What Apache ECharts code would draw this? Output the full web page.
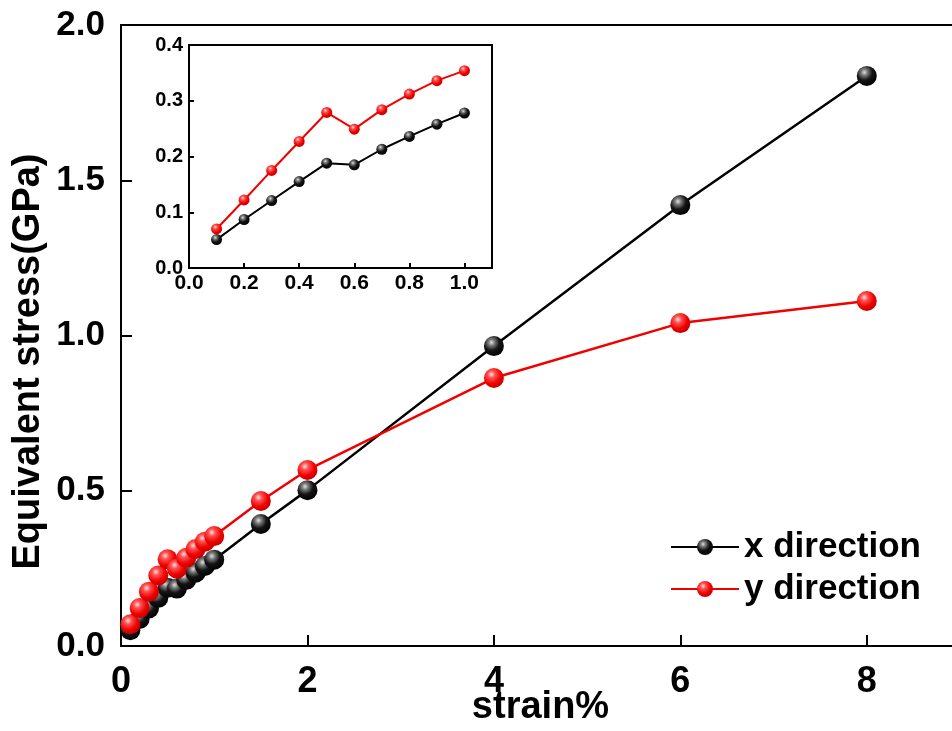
<!DOCTYPE html>
<html>
<head>
<meta charset="utf-8">
<script src="https://cdn.jsdelivr.net/npm/echarts@6/dist/echarts.min.js"></script>
<style>
html,body{margin:0;padding:0;background:#fff;}
#chart{width:952px;height:731px;}
</style>
</head>
<body>
<div id="chart"></div>
<script>
// Strain (%) values for the main plot
const strainMain = [0.1, 0.2, 0.3, 0.4, 0.5, 0.6, 0.7, 0.8, 0.9, 1.0, 1.5, 2, 4, 6, 8];
// Equivalent stress (GPa), x direction
const stressX = [0.051, 0.087, 0.121, 0.155, 0.188, 0.185, 0.213, 0.236, 0.258, 0.278, 0.393, 0.502, 0.966, 1.420, 1.836];
// Equivalent stress (GPa), y direction
const stressY = [0.070, 0.122, 0.175, 0.227, 0.279, 0.249, 0.284, 0.312, 0.336, 0.354, 0.467, 0.567, 0.863, 1.040, 1.111];
// Inset range: first 10 points (strain 0.1 - 1.0)
const insetCount = 10;
const seriesNames = ['x direction', 'y direction'];
const xAxisTitle = 'strain%';
const yAxisTitle = 'Equivalent stress(GPa)';

const pairs = (xs, ys, n) => xs.slice(0, n).map((x, i) => [x, ys[i]]);

const blackBall = {
  type: 'radial', x: 0.38, y: 0.32, r: 0.72,
  colorStops: [
    {offset: 0, color: '#e0e0e0'},
    {offset: 0.22, color: '#7a7a7a'},
    {offset: 0.55, color: '#141414'},
    {offset: 1, color: '#000000'}
  ]
};
const redBall = {
  type: 'radial', x: 0.38, y: 0.32, r: 0.72,
  colorStops: [
    {offset: 0, color: '#ffe0e0'},
    {offset: 0.25, color: '#ff5050'},
    {offset: 0.65, color: '#f00000'},
    {offset: 1, color: '#c00000'}
  ]
};

const font = 'Liberation Sans, Arial, sans-serif';

const chart = echarts.init(document.getElementById('chart'), null, {renderer: 'canvas'});
const option = {
  backgroundColor: '#ffffff',
  animation: false,
  legend: {
    left: 665, top: 524, orient: 'vertical',
    itemWidth: 68, itemHeight: 20, itemGap: 6,
    data: seriesNames,
    textStyle: {fontFamily: font, fontWeight: 'bold', fontSize: 35, color: '#000', lineHeight: 36}
  },
  grid: [
    {left: 121, top: 25, width: 839, height: 621, outerBoundsMode: 'none', containLabel: false,
      show: true, borderColor: '#000', borderWidth: 2, backgroundColor: 'transparent'},
    {left: 189, top: 45, width: 303, height: 223, outerBoundsMode: 'none', containLabel: false,
      show: true, borderColor: '#000', borderWidth: 2, backgroundColor: '#fff', z: 5}
  ],
  xAxis: [
    {
      gridIndex: 0, type: 'value', min: 0, max: 9, interval: 2,
      name: xAxisTitle, nameLocation: 'middle', nameGap: 43, nameMoveOverlap: false,
      nameTextStyle: {fontFamily: 'Liberation Sans Narrow, ' + font, fontWeight: 'bold', fontSize: 38, color: '#000'},
      axisLine: {lineStyle: {color: '#000', width: 2}},
      axisTick: {inside: true, length: 11, lineStyle: {color: '#000', width: 2}},
      axisLabel: {margin: 18, showMaxLabel: false, fontFamily: 'Liberation Sans Narrow, ' + font, fontWeight: 'bold', fontSize: 36, color: '#000'},
      splitLine: {show: false}
    },
    {
      gridIndex: 1, type: 'value', min: 0, max: 1.1, interval: 0.2,
      axisLine: {lineStyle: {color: '#000', width: 2}},
      axisTick: {inside: true, length: 5, lineStyle: {color: '#000', width: 2}},
      axisLabel: {margin: 5, showMaxLabel: false, fontFamily: font, fontWeight: 'bold', fontSize: 21, color: '#000',
        formatter: v => v.toFixed(1)},
      splitLine: {show: false}, z: 6
    }
  ],
  yAxis: [
    {
      gridIndex: 0, type: 'value', min: 0, max: 2, interval: 0.5,
      name: yAxisTitle, nameLocation: 'middle', nameGap: 73, nameMoveOverlap: false,
      nameTextStyle: {fontFamily: font, fontWeight: 'bold', fontSize: 38, color: '#000', padding: [0, 52, 0, 0]},
      axisLine: {lineStyle: {color: '#000', width: 2}},
      axisTick: {inside: true, length: 11, lineStyle: {color: '#000', width: 2}},
      axisLabel: {margin: 16, fontFamily: font, fontWeight: 'bold', fontSize: 35, color: '#000',
        formatter: v => v.toFixed(1)},
      splitLine: {show: false}
    },
    {
      gridIndex: 1, type: 'value', min: 0, max: 0.4, interval: 0.1,
      axisLine: {lineStyle: {color: '#000', width: 2}},
      axisTick: {inside: true, length: 5, lineStyle: {color: '#000', width: 2}},
      axisLabel: {margin: 6, fontFamily: font, fontWeight: 'bold', fontSize: 20, color: '#000',
        formatter: v => v.toFixed(1)},
      splitLine: {show: false}, z: 6
    }
  ],
  series: [
    {
      name: seriesNames[0], type: 'line', xAxisIndex: 0, yAxisIndex: 0,
      data: pairs(strainMain, stressX, strainMain.length),
      symbol: 'circle', symbolSize: 20,
      lineStyle: {color: '#000', width: 2.5},
      itemStyle: {color: blackBall, borderWidth: 0},
      z: 2
    },
    {
      name: seriesNames[1], type: 'line', xAxisIndex: 0, yAxisIndex: 0,
      data: pairs(strainMain, stressY, strainMain.length),
      symbol: 'circle', symbolSize: 20,
      lineStyle: {color: '#f00000', width: 2.5},
      itemStyle: {color: redBall, borderWidth: 0},
      z: 3
    },
    {
      name: seriesNames[0] + ' inset', type: 'line', xAxisIndex: 1, yAxisIndex: 1,
      data: pairs(strainMain, stressX, insetCount),
      symbol: 'circle', symbolSize: 11,
      lineStyle: {color: '#000', width: 2},
      itemStyle: {color: blackBall, borderWidth: 0},
      z: 7
    },
    {
      name: seriesNames[1] + ' inset', type: 'line', xAxisIndex: 1, yAxisIndex: 1,
      data: pairs(strainMain, stressY, insetCount),
      symbol: 'circle', symbolSize: 11,
      lineStyle: {color: '#f00000', width: 2},
      itemStyle: {color: redBall, borderWidth: 0},
      z: 8
    }
  ]
};
chart.setOption(option);
</script>
</body>
</html>
